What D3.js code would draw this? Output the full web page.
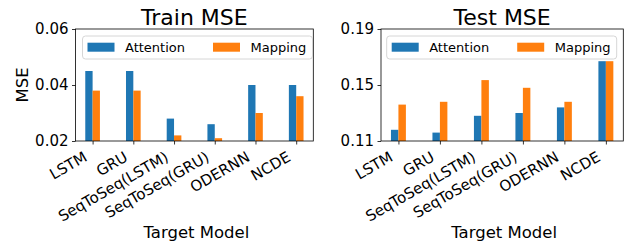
<!DOCTYPE html>
<html>
<head>
<meta charset="utf-8">
<script src="https://cdn.jsdelivr.net/npm/d3@7"></script>
<style>
  body { margin: 0; background: #fff; }
  svg { font-family: "DejaVu Sans", sans-serif; display: block; }
</style>
</head>
<body>
<svg id="chart" width="636" height="245"></svg>
<script>
// ---------- Data ----------
const categories = ["LSTM", "GRU", "SeqToSeq(LSTM)", "SeqToSeq(GRU)", "ODERNN", "NCDE"];
const seriesNames = ["Attention", "Mapping"];
const colors = ["#1f77b4", "#ff7f0e"];

const trainAttention = [0.045, 0.045, 0.028, 0.026, 0.040, 0.040];
const trainMapping   = [0.038, 0.038, 0.022, 0.021, 0.030, 0.036];
const trainTicks = [0.02, 0.04, 0.06];

const testAttention = [0.118, 0.116, 0.128, 0.130, 0.134, 0.167];
const testMapping   = [0.136, 0.138, 0.1535, 0.148, 0.138, 0.167];
const testTicks = [0.11, 0.15, 0.19];

const svg = d3.select("#chart");

// one panel = one subplot
function drawPanel(opt) {
  const { left, right, top, bottom, title, series, ticks, ylabel, legendLeft } = opt;

  const x = d3.scaleLinear().domain([-0.42, 5.42]).range([left, right]);
  const y = d3.scaleLinear().domain([ticks[0], ticks[ticks.length - 1]]).range([bottom, top]);
  const bw = 0.18;

  const g = svg.append("g");

  // bars
  series.forEach((vals, s) => {
    g.selectAll(null)
      .data(vals)
      .enter()
      .append("rect")
      .attr("x", (d, i) => s === 0 ? x(i - bw) : x(i))
      .attr("width", x(bw) - x(0))
      .attr("y", d => y(d))
      .attr("height", d => bottom - y(d))
      .attr("fill", colors[s]);
  });

  // y axis
  const yAxis = d3.axisLeft(y).tickValues(ticks).tickFormat(d3.format(".2f"))
    .tickSize(3.5).tickPadding(3.5);
  g.append("g").attr("transform", `translate(${left},0)`).call(yAxis)
    .call(a => a.select(".domain").remove())
    .call(a => a.selectAll("line").attr("stroke", "#000").attr("stroke-width", 0.8))
    .call(a => a.selectAll("text").attr("font-size", 15).attr("fill", "#000")
      .attr("font-family", "DejaVu Sans"));

  // x axis
  const xAxis = d3.axisBottom(x).tickValues(d3.range(categories.length))
    .tickFormat(i => categories[i]).tickSize(3.5);
  const xa = g.append("g").attr("transform", `translate(0,${bottom})`).call(xAxis);
  xa.select(".domain").remove();
  xa.selectAll("line").attr("stroke", "#000").attr("stroke-width", 0.8);
  xa.selectAll("text")
    .attr("font-size", 15).attr("fill", "#000").attr("font-family", "DejaVu Sans")
    .attr("text-anchor", "end")
    .attr("dy", null).attr("y", null)
    .attr("transform", "translate(-5,19) rotate(-30)");

  // frame
  g.append("rect")
    .attr("x", left).attr("y", top)
    .attr("width", right - left).attr("height", bottom - top)
    .attr("fill", "none").attr("stroke", "#000").attr("stroke-width", 0.8);

  // title
  g.append("text")
    .attr("x", (left + right) / 2).attr("y", 25)
    .attr("text-anchor", "middle").attr("font-size", 22)
    .text(title);

  // x label
  g.append("text")
    .attr("x", (left + right) / 2 + 2).attr("y", 238)
    .attr("text-anchor", "middle").attr("font-size", 16.5)
    .text("Target Model");

  if (ylabel) {
    g.append("text")
      .attr("transform", `translate(28,85) rotate(-90)`)
      .attr("text-anchor", "middle").attr("font-size", 16.5)
      .text(ylabel);
  }

  // legend
  const lg = g.append("g").attr("transform", `translate(${legendLeft},36)`);
  lg.append("rect")
    .attr("width", 230).attr("height", 23).attr("rx", 3)
    .attr("fill", "#fff").attr("fill-opacity", 0.8)
    .attr("stroke", "#cccccc").attr("stroke-width", 0.8);
  seriesNames.forEach((name, s) => {
    const ox = 5 + s * 125.5;
    lg.append("rect").attr("x", ox).attr("y", 6.7).attr("width", 27).attr("height", 9)
      .attr("fill", colors[s]);
    lg.append("text").attr("x", ox + 37.5).attr("y", 15.8)
      .attr("font-size", 13).text(name);
  });
}

drawPanel({
  left: 75.5, right: 313.3, top: 29, bottom: 141,
  title: "Train MSE", series: [trainAttention, trainMapping], ticks: trainTicks,
  ylabel: "MSE", legendLeft: 82.5
});

drawPanel({
  left: 381, right: 623.3, top: 29, bottom: 141,
  title: "Test MSE", series: [testAttention, testMapping], ticks: testTicks,
  ylabel: null, legendLeft: 386.7
});
</script>
</body>
</html>
